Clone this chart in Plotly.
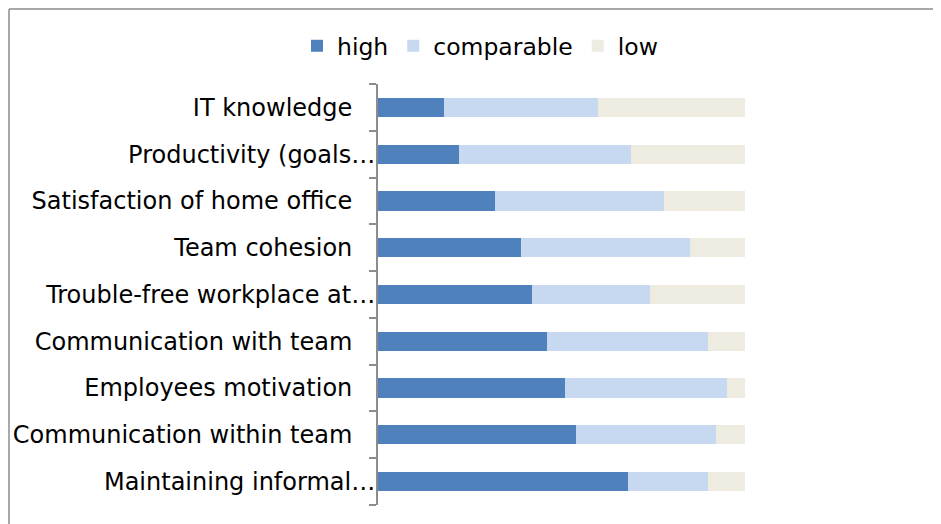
import plotly.graph_objects as go

categories = [
    "IT knowledge",
    "Productivity (goals…",
    "Satisfaction of home office",
    "Team cohesion",
    "Trouble-free workplace at…",
    "Communication with team",
    "Employees motivation",
    "Communication within team",
    "Maintaining informal…",
]
high = [18, 22, 32, 39, 42, 46, 51, 54, 68]
comparable = [42, 47, 46, 46, 32, 44, 44, 38, 22]
low = [40, 31, 22, 15, 26, 10, 5, 8, 10]

series = [("high", high, "#4F81BD"), ("comparable", comparable, "#C6D9F1"), ("low", low, "#EEECE1")]

FONT = "DejaVu Sans"
OFF = 8  # default page body margin
W, H = 941 - OFF, 524 - OFF
ML, MT = 378 - OFF, 84 - OFF
PW, PH = 367, 421
MR, MB = W - ML - PW, H - MT - PH

fig = go.Figure()
for name, vals, col in series:
    fig.add_trace(go.Bar(
        y=categories, x=vals, name=name, orientation="h",
        marker=dict(color=col, line=dict(width=0)),
    ))

ticktext = [c if c.endswith("…") else c + "\u00a0\u00a0\u00a0" for c in categories]

def px_x(px):
    return (px - OFF - ML) / PW

def px_y(py):
    return 1 - (py - OFF - MT) / PH

fig.update_layout(
    width=W, height=H,
    margin=dict(l=ML, r=MR, t=MT, b=MB, pad=0, autoexpand=False),
    barmode="stack", bargap=0.59,
    plot_bgcolor="white", paper_bgcolor="white",
    font=dict(family=FONT, size=24, color="black"),
    showlegend=True,
    legend=dict(orientation="h", xref="container", yref="container",
                x=(297 - OFF) / W, xanchor="left", y=1 - (46 - OFF) / H, yanchor="middle",
                font=dict(family=FONT, size=23.5, color="black"), traceorder="normal",
                bgcolor="rgba(0,0,0,0)"),
    xaxis=dict(range=[0, 100], visible=False, showgrid=False, zeroline=False, fixedrange=True),
    yaxis=dict(
        autorange="reversed", showgrid=False, zeroline=False, automargin=False,
        showline=True, linecolor="#8C8C8C", linewidth=2,
        ticks="outside", tickson="boundaries", ticklen=7, tickcolor="#8C8C8C", tickwidth=2,
        tickvals=categories, ticktext=ticktext, ticklabelstandoff=-4,
        tickfont=dict(family=FONT, size=24, color="black"),
    ),
    shapes=[
        dict(type="line", xref="paper", yref="paper", x0=px_x(9), x1=px_x(960), y0=px_y(9), y1=px_y(9),
             line=dict(color="#8C8C8C", width=1.5)),
        dict(type="line", xref="paper", yref="paper", x0=px_x(9), x1=px_x(9), y0=px_y(9), y1=px_y(540),
             line=dict(color="#8C8C8C", width=1.5)),
    ],
)

fig.write_html("out.html")
